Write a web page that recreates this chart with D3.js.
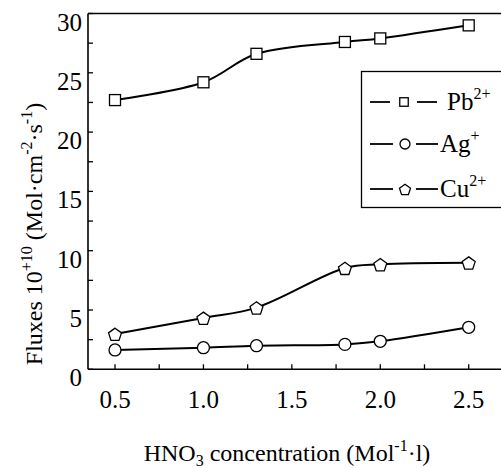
<!DOCTYPE html>
<html><head><meta charset="utf-8">
<script src="https://cdn.jsdelivr.net/npm/d3@7/dist/d3.min.js"></script>
<style>body{margin:0;background:#fff}svg{display:block}</style>
</head><body><svg id="c" width="501" height="468"></svg>
<script>
const concentration = [0.5, 1.0, 1.3, 1.8, 2.0, 2.5];
const pb = [22.7, 24.2, 26.6, 27.6, 27.9, 29.0];
const ag = [1.63, 1.82, 1.99, 2.1, 2.36, 3.54];
const cu = [2.98, 4.33, 5.2, 8.54, 8.85, 8.99];
const xTickLabels = ["0.5", "1.0", "1.5", "2.0", "2.5"];
const yTickLabels = ["0", "5", "10", "15", "20", "25", "30"];
const seriesNames = ["Pb", "Ag", "Cu"];
const seriesSup = ["2+", "+", "2+"];

const FONT = "Liberation Serif";
const svg = d3.select("#c");
const x = d3.scaleLinear().domain([0.3473, 2.6826]).range([88, 501]);
const y = d3.scaleLinear().domain([0, 30]).range([369.3, 13.5]);

// frame: top line, left axis, bottom axis
svg.append("line").attr("x1", x.range()[0]).attr("x2", x.range()[1]).attr("y1", y(30)).attr("y2", y(30)).attr("stroke", "#000").attr("stroke-width", 1.6);
svg.append("line").attr("x1", x.range()[0]).attr("x2", x.range()[0]).attr("y1", y(30)).attr("y2", y(0)).attr("stroke", "#000").attr("stroke-width", 1.6);
svg.append("line").attr("x1", x.range()[0]).attr("x2", x.range()[1]).attr("y1", y(0)).attr("y2", y(0)).attr("stroke", "#000").attr("stroke-width", 1.6);

// y ticks (inside)
const yTicks = d3.range(0, 30.01, 2.5);
svg.selectAll(".yt").data(yTicks).enter().append("line")
  .attr("x1", x.range()[0]).attr("x2", x.range()[0] + 5)
  .attr("y1", d => y(d)).attr("y2", d => y(d)).attr("stroke", "#000").attr("stroke-width", 1.3);
svg.selectAll(".yl").data(yTickLabels).enter().append("text")
  .attr("font-family", FONT)
  .attr("x", 82).attr("y", d => y(+d) + 17)
  .attr("text-anchor", "end").attr("font-size", 25).text(d => d);

// x ticks (inside)
const xTicks = d3.range(0.5, 2.51, 0.25);
svg.selectAll(".xt").data(xTicks).enter().append("line")
  .attr("x1", d => x(d)).attr("x2", d => x(d))
  .attr("y1", y(0)).attr("y2", y(0) - 5).attr("stroke", "#000").attr("stroke-width", 1.3);
svg.selectAll(".xl").data(xTickLabels).enter().append("text")
  .attr("font-family", FONT)
  .attr("x", d => x(+d)).attr("y", 408)
  .attr("text-anchor", "middle").attr("font-size", 25).text(d => d);

// axis titles
const xt = svg.append("text").attr("font-family", FONT).attr("x", 287).attr("y", 461).attr("text-anchor", "middle").attr("font-size", 24);
xt.append("tspan").text("HNO");
xt.append("tspan").attr("dy", 5).attr("font-size", 16).text("3");
xt.append("tspan").attr("dy", -5).text(" concentration (Mol");
xt.append("tspan").attr("dy", -10).attr("font-size", 16).text("-1");
xt.append("tspan").attr("dy", 10).text("·l)");

const yt = svg.append("text").attr("font-family", FONT).attr("transform", "translate(42,234) rotate(-90)").attr("text-anchor", "middle").attr("font-size", 24);
yt.append("tspan").text("Fluxes 10");
yt.append("tspan").attr("dy", -10).attr("font-size", 16).text("+10");
yt.append("tspan").attr("dy", 10).text(" (Mol·cm");
yt.append("tspan").attr("dy", -10).attr("font-size", 16).text("-2");
yt.append("tspan").attr("dy", 10).text("·s");
yt.append("tspan").attr("dy", -10).attr("font-size", 16).text("-1");
yt.append("tspan").attr("dy", 10).text(")");

// series
const line = d3.line().x(d => x(d[0])).y(d => y(d[1])).curve(d3.curveCatmullRom.alpha(0.5));
const seriesData = [pb, ag, cu];
seriesData.forEach(vals => {
  const pts = concentration.map((c, i) => [c, vals[i]]);
  svg.append("path").datum(pts).attr("d", line).attr("fill", "none").attr("stroke", "#000").attr("stroke-width", 2);
});

function pentagonPath(r) {
  const p = d3.range(5).map(i => {
    const a = -Math.PI / 2 + i * 2 * Math.PI / 5;
    return [r * Math.cos(a), r * Math.sin(a)];
  });
  return "M" + p.map(q => q.join(",")).join("L") + "Z";
}
function drawMarker(g, type, size) {
  if (type === 0) g.append("rect").attr("x", -size / 2).attr("y", -size / 2).attr("width", size).attr("height", size);
  else if (type === 1) g.append("circle").attr("r", size / 2);
  else g.append("path").attr("d", pentagonPath(size / 2 + 0.8)).attr("transform", "translate(0,1)");
  g.selectAll("*").attr("fill", "#fff").attr("stroke", "#000").attr("stroke-width", 1.3);
}
seriesData.forEach((vals, s) => {
  concentration.forEach((c, i) => {
    const g = svg.append("g").attr("transform", `translate(${x(c)},${y(vals[i])})`);
    drawMarker(g, s, s === 0 ? 11 : 12);
  });
});

// legend
svg.append("rect").attr("x", 361.5).attr("y", 71.5).attr("width", 150).attr("height", 136)
  .attr("fill", "#fff").attr("stroke", "#000").attr("stroke-width", 1.3);
const legY = [102, 144, 189];
seriesNames.forEach((n, s) => {
  const ly = legY[s];
  const g = svg.append("g");
  g.append("line").attr("x1", 370).attr("x2", s === 0 ? 390 : 393).attr("y1", ly).attr("y2", ly).attr("stroke", "#000").attr("stroke-width", 1.8);
  g.append("line").attr("x1", s === 0 ? 417 : 416).attr("x2", s === 0 ? 437 : 438).attr("y1", ly).attr("y2", ly).attr("stroke", "#000").attr("stroke-width", 1.8);
  const m = svg.append("g").attr("transform", `translate(${s === 0 ? 404 : 405},${ly})`);
  drawMarker(m, s, s === 0 ? 8.5 : 10);
  const t = svg.append("text").attr("font-family", FONT).attr("x", s === 0 ? 447 : 440).attr("y", ly + 8).attr("font-size", 25);
  t.append("tspan").text(n);
  t.append("tspan").attr("dy", -11).attr("font-size", 16).text(seriesSup[s]);
});
</script></body></html>
